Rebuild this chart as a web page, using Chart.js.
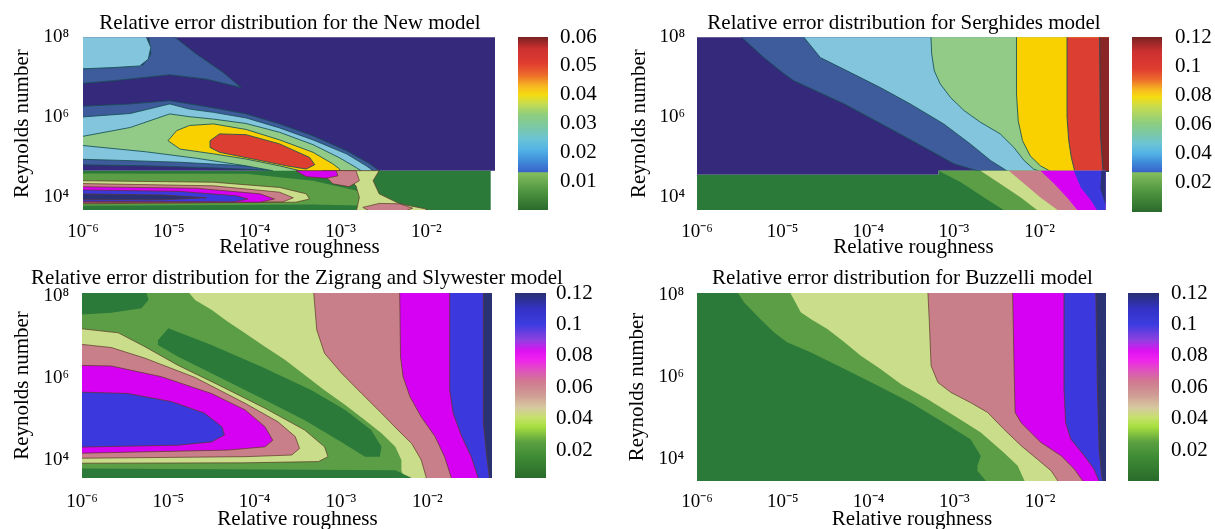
<!DOCTYPE html>
<html>
<head>
<meta charset="utf-8">
<script src="https://cdn.jsdelivr.net/npm/chart.js@4.4.1/dist/chart.umd.min.js"></script>
<style>
  body { margin: 0; background: #fff; }
  #wrap { position: relative; width: 1215px; height: 529px; overflow: hidden; }
  canvas { position: absolute; }
</style>
</head>
<body>
<div id="wrap">
  <canvas id="pNew" width="580" height="260" style="left:0px;top:0px"></canvas>
  <canvas id="pSer" width="578" height="260" style="left:615px;top:0px"></canvas>
  <canvas id="pZig" width="594" height="270" style="left:0px;top:262px"></canvas>
  <canvas id="pBuz" width="575" height="270" style="left:615px;top:262px"></canvas>
  <canvas id="cbNew" width="90" height="260" style="left:518px;top:0px"></canvas>
  <canvas id="cbSer" width="83" height="260" style="left:1132px;top:0px"></canvas>
  <canvas id="cbZig" width="90" height="270" style="left:515px;top:262px"></canvas>
  <canvas id="cbBuz" width="87" height="270" style="left:1128px;top:262px"></canvas>
</div>
<script>
// axes: x = log10(relative roughness), y = log10(Reynolds number)
const xTickValues = [-6, -5, -4, -3, -2];
const xTickLabels = ['10⁻⁶', '10⁻⁵', '10⁻⁴', '10⁻³', '10⁻²'];
const yTickValues = [4, 6, 8];
const yTickLabels = ['10⁴', '10⁶', '10⁸'];

const cbNewTicks = [0.01, 0.02, 0.03, 0.04, 0.05, 0.06];
const cbNewLabels = ['0.01', '0.02', '0.03', '0.04', '0.05', '0.06'];
const cbTicks = [0.02, 0.04, 0.06, 0.08, 0.1, 0.12];
const cbLabels = ['0.02', '0.04', '0.06', '0.08', '0.1', '0.12'];

// --- New model: contour regions [log eps, log Re] ---
const newNavy = [[-6.1,8.1],[-1.1,8.1],[-1.1,4.66],[-6.1,4.66]];
const newSteelTop = [[-6.1,7.20],[-5.65,7.26],[-5.30,7.31],[-5.21,7.58],[-5.24,8.1],[-4.99,8.1],[-4.68,7.58],[-4.37,7.12],[-4.16,6.74],[-4.56,6.95],[-4.99,7.06],[-5.65,6.91],[-6.1,6.83]];
const newSkyTop = [[-6.1,8.1],[-5.28,8.1],[-5.21,7.74],[-5.24,7.45],[-5.34,7.28],[-5.65,7.24],[-6.1,7.20]];
const newSteelRidge = [[-6.1,6.26],[-5.45,6.33],[-4.99,6.41],[-4.76,6.33],[-4.48,6.23],[-4.10,6.08],[-3.71,5.83],[-3.32,5.53],[-2.93,5.16],[-2.66,4.83],[-2.55,4.66],[-2.5,4.6],[-3.71,4.6],[-3.71,4.66],[-4.48,4.73],[-5.26,4.78],[-6.1,4.81]];
const newSkyRidge = [[-6.1,5.99],[-5.45,6.09],[-4.99,6.33],[-4.76,6.20],[-4.48,6.12],[-4.10,5.98],[-3.71,5.73],[-3.32,5.43],[-2.93,5.08],[-2.70,4.78],[-2.62,4.66],[-2.6,4.6],[-3.32,4.6],[-3.32,4.66],[-4.10,4.78],[-4.87,4.87],[-5.45,4.91],[-6.1,4.95]];
const newGreen = [[-6.1,5.48],[-5.45,5.74],[-4.99,6.08],[-4.76,6.01],[-4.48,5.95],[-4.10,5.84],[-3.71,5.62],[-3.32,5.31],[-3.01,4.98],[-2.82,4.74],[-2.76,4.66],[-2.74,4.6],[-3.78,4.6],[-3.79,4.66],[-4.10,4.78],[-4.68,4.97],[-5.26,5.13],[-6.1,5.31]];
const newYellow = [[-5.01,5.41],[-4.91,5.66],[-4.76,5.79],[-4.48,5.83],[-4.10,5.69],[-3.71,5.43],[-3.32,5.12],[-3.09,4.83],[-3.01,4.70],[-3.0,4.6],[-3.36,4.6],[-3.71,4.78],[-4.10,4.95],[-4.48,5.08],[-4.87,5.20]];
const newRed = [[-4.52,5.41],[-4.41,5.58],[-4.10,5.56],[-3.71,5.33],[-3.36,4.99],[-3.30,4.81],[-3.40,4.70],[-3.63,4.78],[-4.02,4.95],[-4.41,5.12],[-4.52,5.24]];
const newBand = [[-6.1,4.66],[-1.25,4.66],[-1.25,3.6],[-6.1,3.6]];
const newBandMid = [[-6.1,4.59],[-4.10,4.58],[-3.32,4.41],[-2.82,4.16],[-2.62,3.91],[-2.66,3.78],[-3.32,3.81],[-6.1,3.78]];
const newBandPale = [[-6.1,4.41],[-4.48,4.37],[-3.71,4.24],[-3.40,4.08],[-3.36,3.95],[-3.52,3.87],[-6.1,3.83]];
const newBandPaleDiag = [[-3.05,4.66],[-2.55,4.66],[-2.62,4.41],[-2.55,4.08],[-2.31,3.83],[-2.0,3.70],[-2.0,3.6],[-2.82,3.6],[-2.78,3.99],[-2.82,4.28],[-2.93,4.49]];
const newBandPink = [[-6.1,4.34],[-4.48,4.28],[-3.71,4.12],[-3.55,3.98],[-3.67,3.88],[-6.1,3.84]];
const newBandPinkDiag = [[-3.21,4.66],[-2.82,4.66],[-2.78,4.41],[-2.90,4.26],[-3.09,4.33],[-3.17,4.51]];
const newBandPinkLow = [[-2.74,3.74],[-2.55,3.84],[-2.31,3.83],[-2.16,3.72],[-2.31,3.6],[-2.62,3.6]];
const newBandMag = [[-6.1,4.26],[-4.68,4.22],[-3.94,4.08],[-3.77,3.95],[-3.94,3.87],[-6.1,3.87]];
const newBandMagDiag = [[-3.52,4.66],[-3.05,4.66],[-3.03,4.53],[-3.17,4.47],[-3.40,4.51]];
const newBandBlue = [[-6.1,4.18],[-4.87,4.14],[-4.21,4.03],[-4.08,3.95],[-4.25,3.88],[-6.1,3.89]];
const newBandCore = [[-6.1,4.08],[-5.07,4.05],[-4.56,3.98],[-5.07,3.93],[-6.1,3.93]];

// --- Serghides model ---
const serNavy = [[-6.1,8.1],[-1.1,8.1],[-1.1,4.66],[-3.18,4.66],[-3.18,4.56],[-6.1,4.56]];
const serSteel = [[-5.53,8.1],[-1.1,8.1],[-1.1,4.64],[-2.70,4.64],[-3.0,4.83],[-3.31,5.20],[-3.70,5.66],[-4.28,6.33],[-4.87,6.91],[-4.98,7.08],[-5.22,7.49]];
const serSky = [[-4.79,8.1],[-1.1,8.1],[-1.1,4.64],[-2.37,4.64],[-2.57,4.91],[-2.81,5.33],[-3.12,5.83],[-3.51,6.33],[-3.86,6.74],[-4.25,7.16],[-4.56,7.49]];
const serGreen = [[-3.27,8.1],[-1.1,8.1],[-1.1,4.64],[-1.99,4.64],[-2.07,4.70],[-2.18,4.91],[-2.30,5.24],[-2.46,5.58],[-2.69,5.87],[-2.88,6.16],[-3.04,6.49],[-3.16,6.83],[-3.23,7.16],[-3.26,7.58]];
const serYellow = [[-2.27,8.1],[-1.1,8.1],[-1.1,4.64],[-1.87,4.64],[-1.99,4.78],[-2.11,5.03],[-2.20,5.41],[-2.25,5.91],[-2.27,6.58]];
const serRed = [[-1.68,8.1],[-1.1,8.1],[-1.1,4.64],[-1.59,4.64],[-1.63,4.99],[-1.66,5.41],[-1.68,6.0]];
const serDarkRed = [[-1.30,8.1],[-1.1,8.1],[-1.1,4.64],[-1.26,4.64],[-1.29,5.58]];
const serBand = [[-6.1,4.56],[-3.18,4.56],[-3.18,4.66],[-1.23,4.66],[-1.23,3.6],[-6.1,3.6]];
const serBandMid = [[-3.18,4.66],[-1.23,4.66],[-1.23,3.6],[-2.40,3.6],[-2.42,3.675],[-2.65,3.99],[-2.92,4.37]];
const serBandPale = [[-2.69,4.66],[-1.23,4.66],[-1.23,3.6],[-2.01,3.6],[-2.03,3.675],[-2.22,3.99],[-2.46,4.33]];
const serBandPink = [[-2.36,4.66],[-1.23,4.66],[-1.23,3.6],[-1.78,3.6],[-1.79,3.675],[-1.99,3.99],[-2.18,4.33]];
const serBandMag = [[-1.99,4.66],[-1.23,4.66],[-1.23,3.6],[-1.55,3.6],[-1.56,3.675],[-1.68,3.99],[-1.83,4.33]];
const serBandBlue = [[-1.60,4.66],[-1.23,4.66],[-1.23,3.6],[-1.32,3.6],[-1.33,3.675],[-1.40,3.91],[-1.52,4.24]];
const serBandNavy = [[-1.28,4.66],[-1.23,4.66],[-1.23,3.8],[-1.29,4.2]];

// --- Zigrang and Slywester model ---
const zigPale = [[-6.1,8.2],[-1.1,8.2],[-1.1,3.4],[-6.1,3.4]];
const zigPinkR = [[-3.32,8.2],[-1.1,8.2],[-1.1,3.4],[-2.0,3.4],[-2.01,3.56],[-2.07,4.0],[-2.18,4.40],[-2.34,4.73],[-2.53,5.14],[-2.76,5.62],[-2.99,6.11],[-3.19,6.60],[-3.28,7.17]];
const zigMagR = [[-2.32,8.2],[-1.1,8.2],[-1.1,3.4],[-1.71,3.4],[-1.72,3.56],[-1.80,4.08],[-1.91,4.57],[-2.07,5.05],[-2.20,5.54],[-2.28,6.03],[-2.31,6.52]];
const zigBlueR = [[-1.74,8.2],[-1.1,8.2],[-1.1,3.4],[-1.40,3.4],[-1.41,3.56],[-1.49,4.08],[-1.60,4.57],[-1.70,5.14],[-1.74,5.70]];
const zigNavyR = [[-1.35,8.2],[-1.1,8.2],[-1.1,3.4],[-1.27,3.4],[-1.31,4.08],[-1.35,4.89]];
const zigMid = [[-6.1,8.2],[-4.81,8.2],[-4.69,7.90],[-4.50,7.66],[-4.31,7.37],[-4.11,7.09],[-3.88,6.76],[-3.65,6.44],[-3.42,6.07],[-3.19,5.70],[-2.95,5.34],[-2.72,4.97],[-2.53,4.65],[-2.37,4.32],[-2.30,4.0],[-2.30,3.75],[-2.25,3.4],[-6.1,3.4]];
const zigDarkTop = [[-6.1,8.2],[-5.27,8.2],[-5.23,7.90],[-5.31,7.70],[-5.66,7.59],[-6.1,7.53]];
const zigDarkBand = [[-5.12,6.92],[-5.0,7.21],[-4.50,6.80],[-3.92,6.27],[-3.34,5.70],[-2.95,5.22],[-2.65,4.73],[-2.53,4.32],[-2.55,4.08],[-2.72,4.08],[-3.03,4.48],[-3.42,4.97],[-3.88,5.46],[-4.42,6.03],[-4.89,6.52],[-5.12,6.80]];
const zigPaleTongue = [[-6.1,7.22],[-5.58,7.10],[-5.27,6.76],[-4.89,6.31],[-4.42,5.83],[-3.88,5.26],[-3.42,4.73],[-3.19,4.32],[-3.15,4.08],[-3.26,3.96],[-4.11,3.93],[-6.1,3.92]];
const zigPinkTongue = [[-6.1,6.84],[-5.66,6.74],[-5.27,6.48],[-4.69,6.01],[-4.11,5.38],[-3.73,4.93],[-3.53,4.57],[-3.48,4.28],[-3.57,4.12],[-4.11,4.08],[-6.1,4.04]];
const zigMagTongue = [[-6.1,6.31],[-5.66,6.29],[-5.08,6.03],[-4.50,5.62],[-4.11,5.22],[-3.88,4.81],[-3.79,4.48],[-3.88,4.32],[-4.31,4.24],[-6.1,4.16]];
const zigBlueTongue = [[-6.1,5.66],[-5.47,5.62],[-4.96,5.42],[-4.58,5.14],[-4.38,4.81],[-4.35,4.61],[-4.50,4.44],[-4.89,4.36],[-6.1,4.31]];
const zigDarkBottom = [[-6.1,3.79],[-2.37,3.75],[-2.18,3.56],[-2.15,3.4],[-6.1,3.4]];

// --- Buzzelli model ---
const buzDark = [[-6.1,8.2],[-1.1,8.2],[-1.1,3.3],[-6.1,3.3]];
const buzMid = [[-5.57,8.2],[-1.1,8.2],[-1.1,3.3],[-2.63,3.3],[-2.63,3.47],[-2.73,3.72],[-2.73,3.84],[-2.69,4.08],[-2.81,4.49],[-3.12,4.89],[-3.51,5.38],[-3.89,5.79],[-4.28,6.20],[-4.67,6.60],[-4.95,6.85],[-5.10,7.09],[-5.26,7.41],[-5.45,7.82]];
const buzPale = [[-4.95,8.2],[-1.1,8.2],[-1.1,3.3],[-2.17,3.3],[-2.18,3.47],[-2.26,3.84],[-2.42,4.16],[-2.69,4.65],[-3.0,5.06],[-3.31,5.46],[-3.62,5.83],[-3.86,6.20],[-4.09,6.52],[-4.28,6.85],[-4.48,7.17],[-4.67,7.41],[-4.79,7.58]];
const buzPink = [[-3.31,8.2],[-1.1,8.2],[-1.1,3.3],[-1.78,3.3],[-1.79,3.47],[-1.87,3.72],[-2.03,4.0],[-2.22,4.33],[-2.42,4.73],[-2.61,5.14],[-2.81,5.38],[-3.04,5.63],[-3.19,5.87],[-3.27,6.28],[-3.29,7.33]];
const buzMag = [[-2.32,8.2],[-1.1,8.2],[-1.1,3.3],[-1.50,3.3],[-1.50,3.47],[-1.60,3.76],[-1.75,4.08],[-1.99,4.41],[-2.22,4.89],[-2.29,5.14],[-2.30,6.0]];
const buzBlue = [[-1.72,8.2],[-1.1,8.2],[-1.1,3.3],[-1.31,3.3],[-1.31,3.47],[-1.37,3.76],[-1.48,4.08],[-1.64,4.49],[-1.70,4.89],[-1.72,5.71]];
const buzNavy = [[-1.35,8.2],[-1.1,8.2],[-1.1,3.3],[-1.25,3.3],[-1.28,3.59],[-1.31,4.24],[-1.33,5.71]];

const SERIF = "'Liberation Serif', 'Times New Roman', serif";
const C = {
  navy: '#34297a', steel: '#3e5b9b', sky: '#82c5dc', lgreen: '#91cb87',
  yellow: '#f9d100', red: '#dc3e31', dred: '#8a2626',
  dkgreen: '#2b7a3a', mdgreen: '#5b9e46', pale: '#c9dd8a', pink: '#c97f89',
  magenta: '#d600f3', blue: '#3b39dd', navy2: '#2a3274'
};
const LINE_JET = 'rgba(25,80,85,0.85)';
const LINE_GRN = 'rgba(90,55,40,0.7)';

function closed(points) {
  const pts = points.map(p => ({ x: p[0], y: p[1] }));
  pts.push({ x: points[0][0], y: points[0][1] });
  return pts;
}

function layerSets(layers) {
  return layers.map((l, i) => ({
    data: closed(l[0]),
    showLine: true,
    fill: 'shape',
    backgroundColor: l[1],
    borderColor: l[2] || 'transparent',
    borderWidth: l[2] ? 1 : 0,
    pointRadius: 0,
    pointHoverRadius: 0,
    tension: 0,
    clip: 0,
    order: layers.length - i
  }));
}

function contourPanel(id, title, layers, o) {
  new Chart(document.getElementById(id), {
    type: 'scatter',
    data: { datasets: layerSets(layers) },
    options: {
      responsive: false,
      animation: false,
      events: [],
      layout: { padding: 0 },
      plugins: {
        legend: { display: false },
        tooltip: { enabled: false },
        title: {
          display: true, text: title, color: '#000',
          font: { family: SERIF, size: 21, weight: 'normal' },
          padding: { top: o.titleTop, bottom: o.titleBottom }
        }
      },
      scales: {
        x: {
          type: 'linear', position: 'bottom', min: o.xMin, max: o.xMax,
          grid: { display: false }, border: { display: false },
          afterBuildTicks: ax => { ax.ticks = xTickValues.map(v => ({ value: v })); },
          afterFit: ax => { ax.height = o.xH; },
          ticks: {
            color: '#000', padding: o.xPad, maxRotation: 0, autoSkip: false,
            font: { family: SERIF, size: 19 },
            callback: v => xTickLabels[xTickValues.indexOf(v)]
          },
          title: {
            display: true, text: '    Relative roughness', color: '#000',
            font: { family: SERIF, size: 21 }, padding: { top: 0, bottom: 0 }
          }
        },
        y: {
          type: 'linear', position: 'left', min: o.yMin, max: o.yMax,
          grid: { display: false }, border: { display: false },
          afterBuildTicks: ax => { ax.ticks = yTickValues.map(v => ({ value: v })); },
          afterFit: ax => { ax.width = o.yW; },
          ticks: {
            color: '#000', padding: o.yPad, autoSkip: false,
            font: { family: SERIF, size: 19 },
            callback: v => yTickLabels[yTickValues.indexOf(v)]
          },
          title: {
            display: true, text: 'Reynolds number', color: '#000',
            font: { family: SERIF, size: 21 }, padding: { top: o.yTitlePad, bottom: 0 }
          }
        },
        spacer: {
          type: 'linear', position: 'right',
          grid: { display: false }, border: { display: false },
          ticks: { display: false },
          afterFit: ax => { ax.width = o.rightW; }
        }
      }
    }
  });
}

function gradientFor(chart, s) {
  const ys = chart.scales.y;
  if (!chart.chartArea || !ys) return s.stops[0][1];
  const y0 = ys.getPixelForValue(s.lo);
  const y1 = ys.getPixelForValue(s.hi);
  const g = chart.ctx.createLinearGradient(0, y0, 0, y1);
  s.stops.forEach(([v, c]) => {
    g.addColorStop(Math.min(1, Math.max(0, (v - s.lo) / (s.hi - s.lo))), c);
  });
  return g;
}

function colorbar(id, yMin, yMax, tickVals, tickLabels, segs, o) {
  new Chart(document.getElementById(id), {
    type: 'bar',
    data: {
      labels: [''],
      datasets: segs.map(s => ({
        data: [[s.lo, s.hi]],
        backgroundColor: ctx => gradientFor(ctx.chart, s),
        borderWidth: 0,
        barPercentage: 1,
        categoryPercentage: 1,
        grouped: false
      }))
    },
    options: {
      responsive: false,
      animation: false,
      events: [],
      layout: { padding: { top: o.top, bottom: o.bottom, left: 0, right: 0 } },
      plugins: { legend: { display: false }, tooltip: { enabled: false } },
      scales: {
        x: { display: false },
        y: {
          position: 'right', min: yMin, max: yMax,
          grid: { display: false }, border: { display: false },
          afterBuildTicks: ax => { ax.ticks = tickVals.map(v => ({ value: v })); },
          afterFit: ax => { ax.width = o.axisW; },
          ticks: {
            color: '#000', padding: o.pad, autoSkip: false,
            font: { family: SERIF, size: 21 },
            callback: v => tickLabels[tickVals.indexOf(v)]
          }
        }
      }
    }
  });
}

// colormap styles
const greenStops = lo => [[lo, '#2a6a2c'], [lo + 0.5 * (0.0134 - lo), '#4f9540'], [0.0134, '#86bf5f']];
const jetNew = [[0.01345,'#3a62cc'],[0.017,'#3e8ad8'],[0.021,'#52b2e6'],[0.025,'#6cc4d4'],[0.029,'#7cc8a4'],[0.033,'#8ccd80'],[0.037,'#c6dc50'],[0.040,'#f5dc10'],[0.043,'#f7b820'],[0.047,'#ec6a2c'],[0.051,'#e03c30'],[0.056,'#cc3030'],[0.06,'#7a2222']];
const jetSer = [[0.0275,'#3a62cc'],[0.034,'#3e8ad8'],[0.040,'#52b2e6'],[0.047,'#6cc4d4'],[0.054,'#7cc8a4'],[0.061,'#8ccd80'],[0.072,'#c6dc50'],[0.079,'#f5dc10'],[0.084,'#f7b820'],[0.091,'#ec6a2c'],[0.098,'#e03c30'],[0.11,'#cc3030'],[0.12,'#7a2222']];
const grnPink = [[0.0,'#2a6a2a'],[0.015,'#3d8a35'],[0.025,'#5aa040'],[0.035,'#a8e040'],[0.041,'#c8e070'],[0.047,'#d6c9a0'],[0.055,'#d09c94'],[0.064,'#d07890'],[0.071,'#e050c0'],[0.078,'#f020f0'],[0.083,'#dc12f0'],[0.09,'#9040e0'],[0.1,'#3c3ce0'],[0.11,'#3232c4'],[0.12,'#283070']];

contourPanel('pNew', 'Relative error distribution for the New model', [
  [newNavy, C.navy],
  [newSteelTop, C.steel, LINE_JET],
  [newSkyTop, C.sky, LINE_JET],
  [newSteelRidge, C.steel, LINE_JET],
  [newSkyRidge, C.sky, LINE_JET],
  [newGreen, C.lgreen, LINE_JET],
  [newYellow, C.yellow, LINE_JET],
  [newRed, C.red, LINE_JET],
  [newBand, C.dkgreen],
  [newBandMid, C.mdgreen],
  [newBandPale, C.pale, LINE_GRN],
  [newBandPaleDiag, C.pale, LINE_GRN],
  [newBandPink, C.pink, LINE_GRN],
  [newBandPinkDiag, C.pink, LINE_GRN],
  [newBandPinkLow, C.pink, LINE_GRN],
  [newBandMag, C.magenta, LINE_GRN],
  [newBandMagDiag, C.magenta, LINE_GRN],
  [newBandBlue, C.blue, LINE_GRN],
  [newBandCore, C.navy2, LINE_GRN]
], { xMin: -6, xMax: -1.2, yMin: 3.675, yMax: 8, titleTop: 11, titleBottom: 1, xH: 50, xPad: 3, yW: 83, yPad: 6, yTitlePad: 10, rightW: 85 });

contourPanel('pSer', 'Relative error distribution for Serghides model', [
  [serNavy, C.navy],
  [serSteel, C.steel, LINE_JET],
  [serSky, C.sky, LINE_JET],
  [serGreen, C.lgreen, LINE_JET],
  [serYellow, C.yellow, LINE_JET],
  [serRed, C.red, LINE_JET],
  [serDarkRed, C.dred, LINE_JET],
  [serBand, C.dkgreen],
  [serBandMid, C.mdgreen],
  [serBandPale, C.pale],
  [serBandPink, C.pink],
  [serBandMag, C.magenta],
  [serBandBlue, C.blue],
  [serBandNavy, C.navy2]
], { xMin: -6, xMax: -1.19, yMin: 3.675, yMax: 8, titleTop: 11, titleBottom: 1, xH: 50, xPad: 3, yW: 82, yPad: 4, yTitlePad: 12, rightW: 84 });

contourPanel('pZig', 'Relative error distribution for the Zigrang and Slywester model', [
  [zigPale, C.pale],
  [zigPinkR, C.pink, LINE_GRN],
  [zigMagR, C.magenta, LINE_GRN],
  [zigBlueR, C.blue, LINE_GRN],
  [zigNavyR, C.navy2, LINE_GRN],
  [zigMid, C.mdgreen],
  [zigDarkTop, C.dkgreen],
  [zigDarkBand, C.dkgreen],
  [zigPaleTongue, C.pale, LINE_GRN],
  [zigPinkTongue, C.pink, LINE_GRN],
  [zigMagTongue, C.magenta, LINE_GRN],
  [zigBlueTongue, C.blue, LINE_GRN],
  [zigDarkBottom, C.dkgreen]
], { xMin: -6, xMax: -1.25, yMin: 3.56, yMax: 8.07, titleTop: 4, titleBottom: 1.8, xH: 54, xPad: 5, yW: 82, yPad: 5, yTitlePad: 10, rightW: 102 });

contourPanel('pBuz', 'Relative error distribution for Buzzelli model', [
  [buzDark, C.dkgreen],
  [buzMid, C.mdgreen],
  [buzPale, C.pale],
  [buzPink, C.pink, LINE_GRN],
  [buzMag, C.magenta, LINE_GRN],
  [buzBlue, C.blue, LINE_GRN],
  [buzNavy, C.navy2, LINE_GRN]
], { xMin: -6, xMax: -1.23, yMin: 3.47, yMax: 8.05, titleTop: 4, titleBottom: 1.8, xH: 51, xPad: 2, yW: 82, yPad: 5, yTitlePad: 10, rightW: 84 });

colorbar('cbNew', 0.0003, 0.06, cbNewTicks, cbNewLabels, [
  { lo: 0.01345, hi: 0.06, stops: jetNew },
  { lo: 0.0003, hi: 0.01345, stops: greenStops(0.0003) }
], { top: 37, bottom: 50, axisW: 60, pad: 4 });

colorbar('cbSer', 0.0001, 0.12, cbTicks, cbLabels, [
  { lo: 0.0275, hi: 0.12, stops: jetSer },
  { lo: 0.0001, hi: 0.0275, stops: [[0.0001, '#2a6a2c'], [0.014, '#4f9540'], [0.0275, '#86bf5f']] }
], { top: 37, bottom: 48, axisW: 53, pad: 5 });

colorbar('cbZig', 0.0022, 0.12, cbTicks, cbLabels, [
  { lo: 0.0022, hi: 0.12, stops: grnPink }
], { top: 31, bottom: 54, axisW: 59, pad: 2 });

colorbar('cbBuz', 0.0003, 0.12, cbTicks, cbLabels, [
  { lo: 0.0003, hi: 0.12, stops: grnPink }
], { top: 31, bottom: 51, axisW: 56, pad: 4 });
</script>
</body>
</html>
